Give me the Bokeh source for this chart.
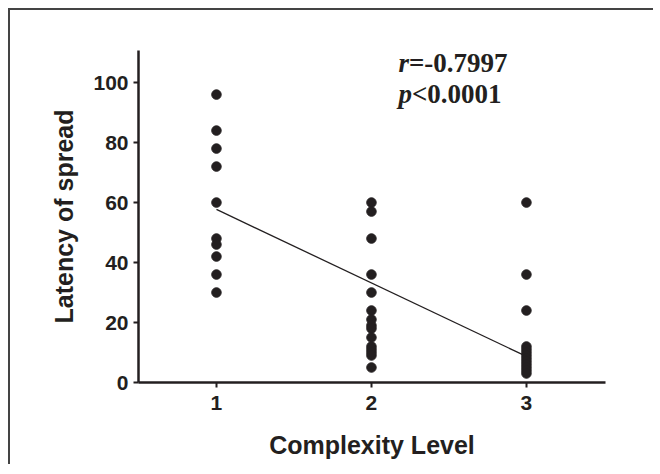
from bokeh.plotting import figure
from bokeh.models import Range1d, Label, FixedTicker
from bokeh.embed import file_html
from bokeh.resources import INLINE

# data
level1 = [96, 84, 78, 72, 60, 48, 46, 42, 36, 30]
level2 = [60, 57, 48, 36, 30, 24, 21, 19, 18, 15, 12, 11, 10, 9, 5]
level3 = [60, 36, 24, 12, 11, 10, 9, 8, 7, 6, 5, 4, 3]
fit_x = [1, 3]
fit_y = [57.7, 8.7]
x_ticks = [1, 2, 3]
y_ticks = [0, 20, 40, 60, 80, 100]
r_text = "=-0.7997"
p_text = "<0.0001"

INK = "#231f20"

p = figure(width=645, height=456, output_backend="svg", toolbar_location=None,
           x_range=Range1d(0.497, 3.51), y_range=Range1d(0, 110.7),
           min_border_left=128, min_border_right=50, min_border_top=40, min_border_bottom=84)
p.styles = {"margin-left": "8px", "margin-top": "8px",
            "border-top": "2px solid #444", "border-left": "2px solid #444"}
p.outline_line_color = None
p.xgrid.grid_line_color = None
p.ygrid.grid_line_color = None
p.background_fill_color = "white"
p.border_fill_color = "white"

xs = [1] * len(level1) + [2] * len(level2) + [3] * len(level3)
ys = level1 + level2 + level3
p.scatter(xs, ys, size=9.5, color=INK)
p.line(fit_x, fit_y, line_color=INK, line_width=1.3)

for ax in (p.xaxis[0], p.yaxis[0]):
    ax.axis_line_color = INK
    ax.axis_line_width = 2.5
    ax.major_tick_line_color = INK
    ax.major_tick_line_width = 2
    ax.major_tick_out = 5
    ax.major_tick_in = 0
    ax.minor_tick_line_color = None
    ax.major_label_text_font = "Liberation Sans"
    ax.major_label_text_font_style = "bold"
    ax.major_label_text_font_size = "21px"
    ax.major_label_text_color = INK
    ax.axis_label_text_font = "Liberation Sans"
    ax.axis_label_text_font_style = "bold"
    ax.axis_label_text_color = INK

p.xaxis.ticker = FixedTicker(ticks=x_ticks)
p.yaxis.ticker = FixedTicker(ticks=y_ticks)
p.xaxis.major_label_standoff = 8
p.yaxis.major_label_standoff = 5
p.xaxis.axis_label = "Complexity Level"
p.yaxis.axis_label = "Latency of spread"
p.xaxis.axis_label_text_font_size = "25px"
p.yaxis.axis_label_text_font_size = "25px"
p.xaxis.axis_label_standoff = 18
p.yaxis.axis_label_standoff = 12

common = dict(text_font="Liberation Serif", text_font_size="27px", text_color=INK,
              text_baseline="alphabetic", text_align="left")
lx = 2.174
p.add_layout(Label(x=lx, y=106.5, text="r", text_font_style="bold italic", **common))
p.add_layout(Label(x=lx, y=106.5, x_offset=10.5, text=r_text, text_font_style="bold", **common))
p.add_layout(Label(x=lx, y=96.2, text="p", text_font_style="bold italic", **common))
p.add_layout(Label(x=lx, y=96.2, x_offset=13.5, text=p_text, text_font_style="bold", **common))

open("out.html", "w").write(file_html(p, INLINE))
